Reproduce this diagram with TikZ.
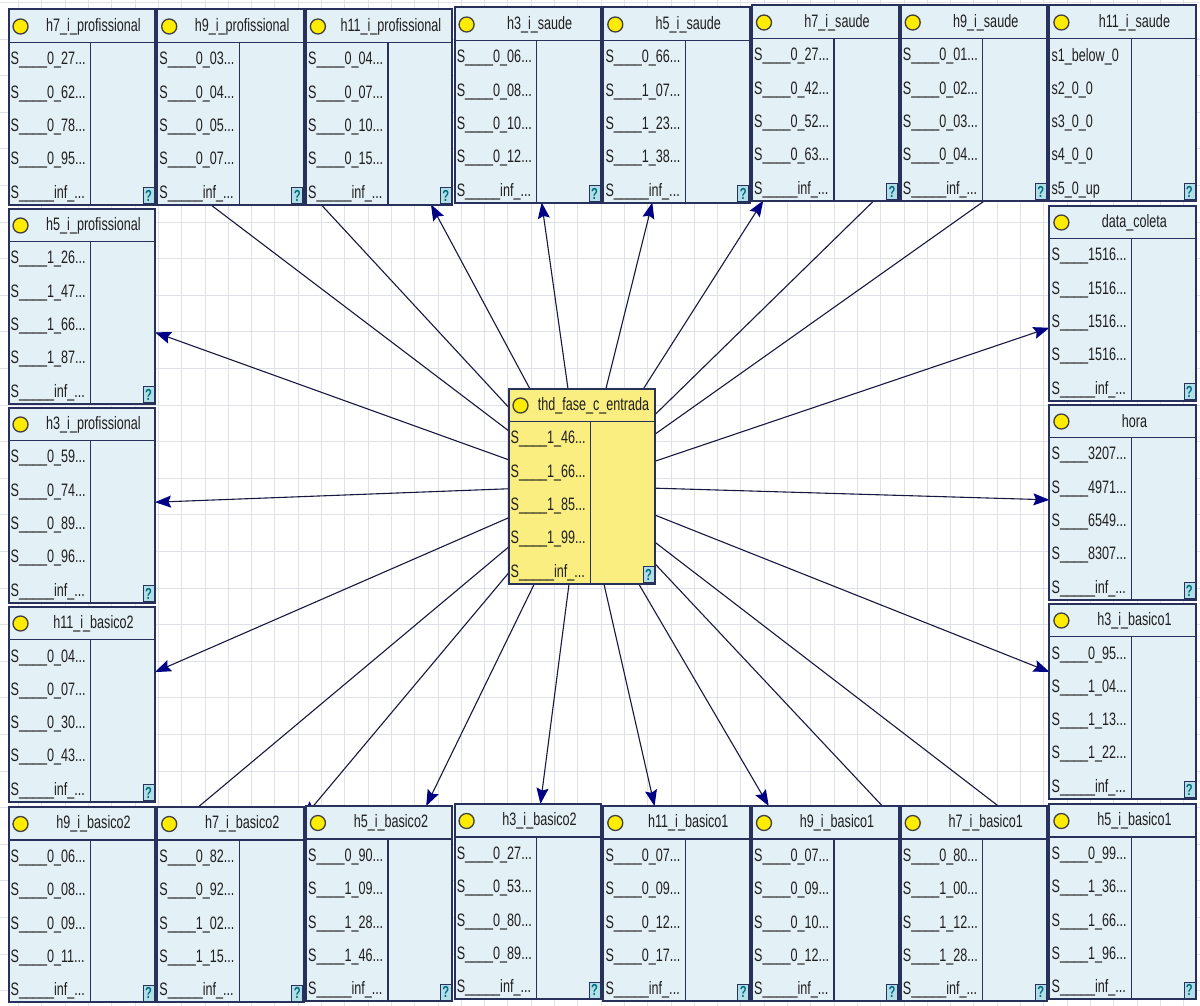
\documentclass[tikz,border=0pt]{standalone}
\usepackage{fontspec}
\newfontfamily\netfont{Liberation Sans}[FakeStretch=0.70]
\usepackage{tikz}
\usetikzlibrary{
  arrows.meta,
  positioning,
  calc,
  backgrounds
}
\definecolor{box_fill}{RGB}{227, 240, 246}
\definecolor{box_line}{RGB}{40, 48, 92}
\definecolor{query_yellow}{RGB}{250, 238, 128}
\definecolor{dot_yellow}{RGB}{255, 236, 0}
\definecolor{arc_line}{RGB}{24, 24, 64}
\definecolor{arc_head}{RGB}{0, 0, 135}
\definecolor{grid_gray}{RGB}{222, 226, 232}
\definecolor{help_teal}{RGB}{0, 110, 130}
\definecolor{help_fill}{RGB}{178, 222, 232}
\pgfdeclarelayer{background}
\pgfdeclarelayer{arcs}
\pgfsetlayers{background,arcs,main}

% state labels as the tool prints them
\newcommand{\stlbl}[1]{S\_\_\_\_#1...}
\newcommand{\stinf}{S\_\_\_\_\_inf\_...}

% one network node: placement, name, title, states
\newcommand{\netbox}[4]{%
  \node[box_base, #1] (#2) {};
  \draw[box_rule] ([yshift=-33pt]#2.north west) -- ([yshift=-33pt]#2.north east);
  \draw[col_rule] ([shift={(82pt,-33pt)}]#2.north west) -- ([xshift=82pt]#2.south west);
  \node[state_dot] at ([shift={(12pt,-17pt)}]#2.north west) {};
  \node[title_text] at ([shift={(85pt,-17pt)}]#2.north west) {#3};
  \foreach \s [count=\i] in {#4}
    \node[state_text] at ([shift={(2pt,-17.7pt-\i*33.3pt)}]#2.north west) {\s};
  \node[help_icon] at ([shift={(-6.5pt,9pt)}]#2.south east) {?};
}

\begin{document}
\begin{tikzpicture}[
    x=1pt, y=1pt,
    font=\netfont\fontsize{18pt}{20pt}\selectfont,
    >={Stealth[length=16pt, width=12pt, inset=2.5pt, color=arc_head]},
    % Styles
    box_base/.style={
        rectangle, draw=box_line, line width=2pt, fill=box_fill,
        minimum width=146.5pt, minimum height=195pt, inner sep=0pt, outer sep=0pt
    },
    query_box/.style={box_base, fill=query_yellow},
    box_rule/.style={draw=box_line, line width=1.8pt},
    col_rule/.style={draw=box_line, line width=1.4pt},
    state_dot/.style={
        circle, draw=black!75, fill=dot_yellow, line width=1.3pt, minimum size=15pt, inner sep=0pt
    },
    title_text/.style={text=black!88, inner sep=0pt},
    state_text/.style={anchor=west, text=black!88, inner sep=0pt},
    help_icon/.style={
        draw=box_line, line width=0.8pt, fill=help_fill, text=help_teal,
        font=\netfont\bfseries\fontsize{16pt}{16pt}\selectfont,
        minimum width=11pt, minimum height=16pt, inner sep=0pt
    },
    arc/.style={->, draw=arc_line, line width=1.1pt}
]
\useasboundingbox (0,0) rectangle (1200,-1006);

% Background grid
\begin{pgfonlayer}{background}
    \fill[white] (0,0) rectangle (1200,-1006);
    \draw[grid_gray, line width=0.8pt, shift={(18.5,-2.4)}, xstep=23.3pt, ystep=36.6pt]
        (-18.5,2.4) grid (1181.5,-1003.6);
\end{pgfonlayer}

% 1. TOP ROW
\netbox{anchor=north west, at={(8.5,-9.5)}}{h7_prof}{h7\_i\_profissional}
    {\stlbl{0\_27}, \stlbl{0\_62}, \stlbl{0\_78}, \stlbl{0\_95}, \stinf}
\netbox{right=2.2pt of h7_prof}{h9_prof}{h9\_i\_profissional}
    {\stlbl{0\_03}, \stlbl{0\_04}, \stlbl{0\_05}, \stlbl{0\_07}, \stinf}
\netbox{right=2.2pt of h9_prof}{h11_prof}{h11\_i\_profissional}
    {\stlbl{0\_04}, \stlbl{0\_07}, \stlbl{0\_10}, \stlbl{0\_15}, \stinf}
\netbox{right=2.2pt of h11_prof, yshift=2pt}{h3_saude}{h3\_i\_saude}
    {\stlbl{0\_06}, \stlbl{0\_08}, \stlbl{0\_10}, \stlbl{0\_12}, \stinf}
\netbox{right=2.2pt of h3_saude}{h5_saude}{h5\_i\_saude}
    {\stlbl{0\_66}, \stlbl{1\_07}, \stlbl{1\_23}, \stlbl{1\_38}, \stinf}
\netbox{right=2.2pt of h5_saude, yshift=2pt}{h7_saude}{h7\_i\_saude}
    {\stlbl{0\_27}, \stlbl{0\_42}, \stlbl{0\_52}, \stlbl{0\_63}, \stinf}
\netbox{right=2.2pt of h7_saude}{h9_saude}{h9\_i\_saude}
    {\stlbl{0\_01}, \stlbl{0\_02}, \stlbl{0\_03}, \stlbl{0\_04}, \stinf}
\netbox{right=2.2pt of h9_saude}{h11_saude}{h11\_i\_saude}
    {s1\_below\_0, s2\_0\_0, s3\_0\_0, s4\_0\_0, s5\_0\_up}

% 2. LEFT COLUMN
\netbox{below=4pt of h7_prof}{h5_prof}{h5\_i\_profissional}
    {\stlbl{1\_26}, \stlbl{1\_47}, \stlbl{1\_66}, \stlbl{1\_87}, \stinf}
\netbox{below=4pt of h5_prof}{h3_prof}{h3\_i\_profissional}
    {\stlbl{0\_59}, \stlbl{0\_74}, \stlbl{0\_89}, \stlbl{0\_96}, \stinf}
\netbox{below=4pt of h3_prof}{h11_bas2}{h11\_i\_basico2}
    {\stlbl{0\_04}, \stlbl{0\_07}, \stlbl{0\_30}, \stlbl{0\_43}, \stinf}

% 3. RIGHT COLUMN
\netbox{below=5pt of h11_saude}{data_coleta}{data\_coleta}
    {\stlbl{1516}, \stlbl{1516}, \stlbl{1516}, \stlbl{1516}, \stinf}
\netbox{below=4pt of data_coleta}{hora}{hora}
    {\stlbl{3207}, \stlbl{4971}, \stlbl{6549}, \stlbl{8307}, \stinf}
\netbox{below=4pt of hora}{h3_bas1}{h3\_i\_basico1}
    {\stlbl{0\_95}, \stlbl{1\_04}, \stlbl{1\_13}, \stlbl{1\_22}, \stinf}

% 4. BOTTOM ROW
\netbox{anchor=north west, at={(8.5,-807)}}{h9_bas2}{h9\_i\_basico2}
    {\stlbl{0\_06}, \stlbl{0\_08}, \stlbl{0\_09}, \stlbl{0\_11}, \stinf}
\netbox{right=2.2pt of h9_bas2}{h7_bas2}{h7\_i\_basico2}
    {\stlbl{0\_82}, \stlbl{0\_92}, \stlbl{1\_02}, \stlbl{1\_15}, \stinf}
\netbox{right=2.2pt of h7_bas2, yshift=1pt}{h5_bas2}{h5\_i\_basico2}
    {\stlbl{0\_90}, \stlbl{1\_09}, \stlbl{1\_28}, \stlbl{1\_46}, \stinf}
\netbox{right=2.2pt of h5_bas2, yshift=2pt}{h3_bas2}{h3\_i\_basico2}
    {\stlbl{0\_27}, \stlbl{0\_53}, \stlbl{0\_80}, \stlbl{0\_89}, \stinf}
\netbox{right=2.2pt of h3_bas2, yshift=-2pt}{h11_bas1}{h11\_i\_basico1}
    {\stlbl{0\_07}, \stlbl{0\_09}, \stlbl{0\_12}, \stlbl{0\_17}, \stinf}
\netbox{right=2.2pt of h11_bas1}{h9_bas1}{h9\_i\_basico1}
    {\stlbl{0\_07}, \stlbl{0\_09}, \stlbl{0\_10}, \stlbl{0\_12}, \stinf}
\netbox{right=2.2pt of h9_bas1}{h7_bas1}{h7\_i\_basico1}
    {\stlbl{0\_80}, \stlbl{1\_00}, \stlbl{1\_12}, \stlbl{1\_28}, \stinf}
\netbox{right=2.2pt of h7_bas1, yshift=2pt}{h5_bas1}{h5\_i\_basico1}
    {\stlbl{0\_99}, \stlbl{1\_36}, \stlbl{1\_66}, \stlbl{1\_96}, \stinf}

% 5. CENTER: query node (yellow)
\netbox{query_box, anchor=north west, at={(508.5,-388.5)}}{thd}{thd\_fase\_c\_entrada}
    {\stlbl{1\_46}, \stlbl{1\_66}, \stlbl{1\_85}, \stlbl{1\_99}, \stinf}

% --- Connections (under the boxes) ---
\begin{pgfonlayer}{arcs}
    \draw[arc] (thd) -- (h7_prof);
    \draw[arc] (thd) -- (h9_prof);
    \draw[arc] (thd) -- (h11_prof);
    \draw[arc] (thd) -- (h3_saude);
    \draw[arc] (thd) -- (h5_saude);
    \draw[arc] (thd) -- (h7_saude);
    \draw[arc] (thd) -- (h9_saude);
    \draw[arc] (thd) -- (h11_saude);
    \draw[arc] (thd) -- (h5_prof);
    \draw[arc] (thd) -- (h3_prof);
    \draw[arc] (thd) -- (h11_bas2);
    \draw[arc] (thd) -- (data_coleta);
    \draw[arc] (thd) -- (hora);
    \draw[arc] (thd) -- (h3_bas1);
    \draw[arc] (thd) -- (h9_bas2);
    \draw[arc] (thd) -- (h7_bas2);
    \draw[arc] (thd) -- (h5_bas2);
    \draw[arc] (thd) -- (h3_bas2);
    \draw[arc] (thd) -- (h11_bas1);
    \draw[arc] (thd) -- (h9_bas1);
    \draw[arc] (thd) -- (h7_bas1);
    \draw[arc] (thd) -- (h5_bas1);
\end{pgfonlayer}

\end{tikzpicture}
\end{document}
